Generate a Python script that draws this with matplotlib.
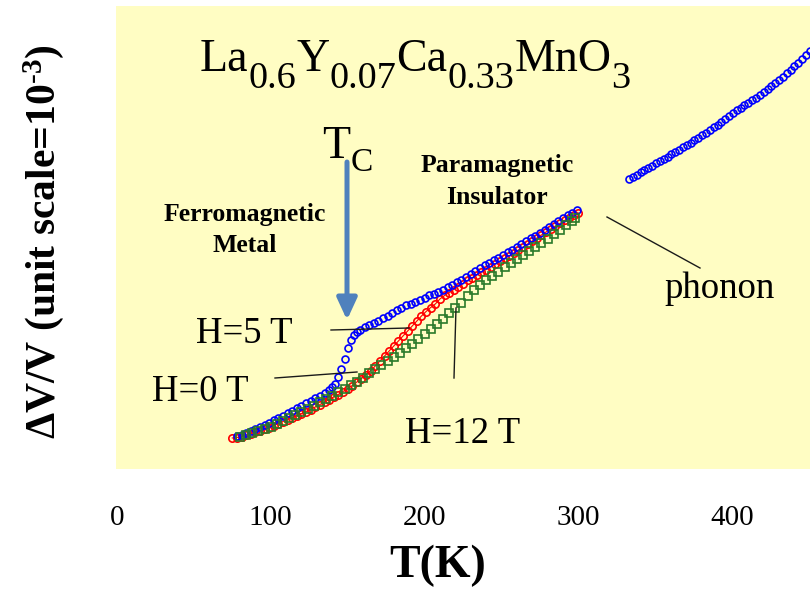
import matplotlib
matplotlib.use("Agg")
import matplotlib.pyplot as plt
from matplotlib.transforms import IdentityTransform

plt.rcParams['mathtext.fontset'] = 'custom'
plt.rcParams['mathtext.rm'] = 'Liberation Serif'
plt.rcParams['mathtext.bf'] = 'Liberation Serif:bold'
plt.rcParams['mathtext.it'] = 'Liberation Serif:italic'
SERIF = 'Liberation Serif'

# ---------------- data ----------------
# H = 0 T, measured up to room temperature
t_h0 = [78, 81, 84, 87, 90, 93, 96, 99, 102, 105, 108, 111, 114, 117, 120, 123, 126, 129,
        132, 135, 138, 140, 142, 144, 146, 148, 150, 152, 154, 156, 158, 161, 164, 167, 170,
        173, 176, 179, 182, 185, 188, 191, 194, 197, 200, 203, 206, 209, 212, 215, 218, 221,
        224, 227, 230, 233, 236, 239, 242, 245, 248, 251, 254, 257, 260, 263, 266, 269, 272,
        275, 278, 281, 284, 287, 290, 293, 296, 299]
v_h0 = [3.3, 3.45, 3.6, 3.8, 4.0, 4.2, 4.4, 4.65, 4.9, 5.1, 5.35, 5.6, 5.85, 6.1, 6.35, 6.6,
        6.85, 7.1, 7.35, 7.65, 7.95, 8.2, 8.5, 9.2, 10.0, 11.0, 12.1, 12.9, 13.4, 13.7, 13.9,
        14.2, 14.4, 14.65, 14.85, 15.1, 15.35, 15.6, 15.9, 16.15, 16.35, 16.55, 16.75, 16.95,
        17.15, 17.35, 17.5, 17.7, 17.95, 18.2, 18.45, 18.7, 18.95, 19.25, 19.5, 19.8, 20.1,
        20.35, 20.6, 20.85, 21.1, 21.4, 21.65, 21.9, 22.2, 22.5, 22.8, 23.05, 23.3, 23.6, 23.9,
        24.2, 24.5, 24.8, 25.05, 25.35, 25.6, 25.85]
# H = 0 T, high-temperature (phonon) branch
t_h0_hi = [333, 335.5, 338, 340.5, 343, 345.5, 348, 350.5, 353, 355.5, 358, 360.5, 363, 365.5,
           368, 370.5, 373, 375.5, 378, 380.5, 383, 385.5, 388, 390.5, 393, 395.5, 398, 400.5,
           403, 405.5, 408, 410.5, 413, 415.5, 418, 420.5, 423, 425.5, 428, 430.5, 433, 435.5,
           438, 440.5, 443, 445.5, 448, 450.5, 453]
v_h0_hi = [29.0, 29.2, 29.4, 29.65, 29.85, 30.05, 30.3, 30.55, 30.8, 31.0, 31.2, 31.45, 31.7,
           31.9, 32.15, 32.4, 32.6, 32.85, 33.1, 33.35, 33.6, 33.9, 34.15, 34.4, 34.7, 35.0,
           35.3, 35.6, 35.85, 36.1, 36.35, 36.6, 36.85, 37.1, 37.4, 37.65, 37.95, 38.25, 38.55,
           38.85, 39.2, 39.55, 39.9, 40.25, 40.6, 40.95, 41.35, 41.75, 42.15]
# H = 5 T
t_h5 = [75, 78, 81, 84, 87, 90, 93, 96, 99, 102, 105, 108, 111, 114, 117, 120, 123, 126, 129,
        132, 135, 138, 141, 144, 147, 150, 153, 156, 159, 162, 165, 168, 171, 174, 177, 180,
        183, 186, 189, 192, 195, 198, 201, 204, 207, 210, 213, 216, 219, 222, 225, 228, 231,
        234, 237, 240, 243, 246, 249, 252, 255, 258, 261, 264, 267, 270, 273, 276, 279, 282,
        285, 288, 291, 294, 297, 300]
v_h5 = [3.1, 3.15, 3.25, 3.4, 3.55, 3.7, 3.85, 4.0, 4.15, 4.35, 4.55, 4.75, 4.95, 5.15, 5.35,
        5.55, 5.75, 5.95, 6.2, 6.45, 6.7, 6.95, 7.2, 7.45, 7.75, 8.05, 8.35, 8.7, 9.05, 9.45,
        9.85, 10.3, 10.8, 11.3, 11.8, 12.3, 12.8, 13.3, 13.8, 14.3, 14.8, 15.3, 15.75, 16.15,
        16.5, 17.0, 17.35, 17.65, 17.95, 18.25, 18.55, 18.85, 19.1, 19.4, 19.7, 19.95, 20.25,
        20.5, 20.8, 21.05, 21.3, 21.6, 21.9, 22.2, 22.5, 22.8, 23.1, 23.4, 23.7, 24.0, 24.25,
        24.55, 24.85, 25.1, 25.35, 25.6]
# H = 12 T
t_h12 = [80, 84, 88, 92, 96, 100, 104, 108, 112, 116, 120, 124, 128, 132, 136, 140, 144, 148,
         152, 156, 160, 164, 168, 172, 176, 180, 184, 188, 192, 196, 200, 204, 208, 212, 216,
         220, 224, 228, 232, 236, 240, 244, 248, 252, 256, 260, 264, 268, 272, 276, 280, 284,
         288, 292, 296, 298]
v_h12 = [3.2, 3.4, 3.6, 3.8, 4.0, 4.25, 4.5, 4.8, 5.1, 5.4, 5.7, 6.0, 6.35, 6.7, 7.0, 7.35,
         7.7, 8.05, 8.4, 8.75, 9.15, 9.6, 10.0, 10.4, 10.8, 11.2, 11.6, 12.1, 12.55, 13.0, 13.5,
         14.0, 14.5, 15.05, 15.6, 16.1, 16.6, 17.3, 17.85, 18.35, 18.85, 19.3, 19.75, 20.2,
         20.6, 21.0, 21.4, 21.8, 22.2, 22.6, 23.0, 23.45, 23.9, 24.35, 24.8, 25.1]

x_ticks = [0, 100, 200, 300, 400]
x_tick_labels = ['0', '100', '200', '300', '400']

# ---------------- figure ----------------
W, H = 810, 589
fig = plt.figure(figsize=(W / 100, H / 100), dpi=100)
fig.patch.set_facecolor('white')
ax = fig.add_axes([116 / W, (H - 469) / H, (810 - 116) / W, (469 - 6) / H])
ax.set_facecolor('#FFFDC3')
ax.set_xlim(-0.6, 450.6)
ax.set_ylim(0, 46.3)
for s in ax.spines.values():
    s.set_visible(False)
ax.set_yticks([])
ax.set_xticks(x_ticks)
ax.set_xticklabels(x_tick_labels, fontfamily=SERIF, fontsize=21)
ax.tick_params(axis='x', length=0, pad=26)

ax.plot(t_h5, v_h5, color='#ff0000', lw=0.8, marker='o', ms=5.3, mfc='none',
        mec='#ff0000', mew=1.2, zorder=3)
ax.plot(t_h0, v_h0, ls='none', marker='o', ms=5.0, mfc='none', mec='#0000ff',
        mew=1.2, zorder=4)
ax.plot(t_h0_hi, v_h0_hi, ls='none', marker='o', ms=5.0, mfc='none', mec='#0000ff',
        mew=1.2, zorder=4, clip_on=True)
ax.plot(t_h12, v_h12, ls='none', marker='s', ms=5.4, mfc='none', mec='#2a7a2a',
        mew=1.2, zorder=5)

ID = IdentityTransform()


def ftext(x, y, s, **kw):
    """Text placed in output pixels (y measured from top)."""
    return fig.text(x, H - y, s, transform=ID, **kw)


def fline(x0, y0, x1, y1, **kw):
    fig.add_artist(plt.Line2D([x0, x1], [H - y0, H - y1], transform=ID, **kw))


renderer = fig.canvas.get_renderer()


def compose(x, y_base, pieces, big, small, drop, weight='normal'):
    for s, sub in pieces:
        t = ftext(x, y_base + (drop if sub else 0), s, fontsize=small if sub else big,
                  fontfamily=SERIF, fontweight=weight, va='baseline', ha='left')
        x += t.get_window_extent(renderer=renderer).width


compose(200, 71, [("La", 0), ("0.6", 1), ("Y", 0), ("0.07", 1), ("Ca", 0), ("0.33", 1),
                  ("MnO", 0), ("3", 1)], 33, 27.5, 17)
compose(322, 158, [("T", 0), ("C", 1)], 33, 24, 13)

# T_C arrow
fig.add_artist(matplotlib.patches.FancyArrowPatch(
    (347, H - 162), (347, H - 320), transform=ID,
    arrowstyle='-|>,head_length=1.3,head_width=0.6', mutation_scale=10,
    lw=3.6, color='#4F81BD', shrinkA=0, shrinkB=0))

bold = dict(fontfamily=SERIF, fontweight='bold', fontsize=18.5, ha='center', va='baseline')
ftext(245, 221, "Ferromagnetic", **bold)
ftext(245, 252, "Metal", **bold)
ftext(497, 172, "Paramagnetic", **bold)
ftext(497, 204, "Insulator", **bold)

reg = dict(fontfamily=SERIF, fontsize=26.5, ha='left', va='baseline')
ftext(664, 298, "phonon", **reg)
ftext(196, 343, "H=5 T", **reg)
ftext(152, 401, "H=0 T", **reg)
ftext(405, 443, "H=12 T", **reg)

lk = dict(color='#1a1a1a', lw=1.0)
fline(607, 217, 700, 268, **lk)
fline(331, 330, 409, 328, **lk)
fline(275, 378, 357, 372, **lk)
fline(454, 378, 456, 308, **lk)

# axis titles
ftext(438, 566, "T(K)", fontfamily=SERIF, fontweight='bold', fontsize=33,
      ha='center', va='center')
ftext(44, 242, r"ΔV/V (unit scale=10$^{\mathbf{\text{-}3}}$)", fontfamily=SERIF,
      fontweight='bold', fontsize=30, rotation=90, ha='center', va='center')

fig.savefig("out.png", dpi=100)
